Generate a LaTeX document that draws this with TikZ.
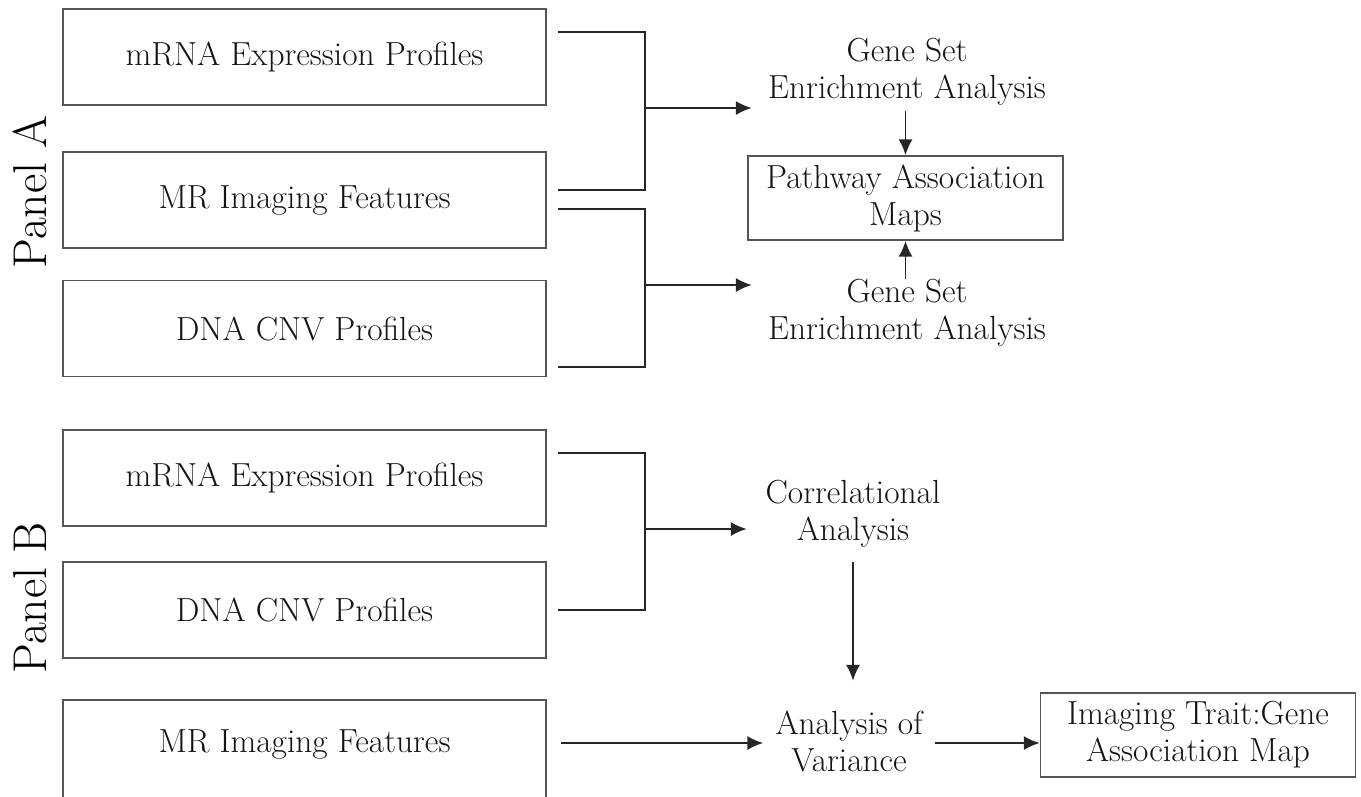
\documentclass[tikz,border=0pt]{standalone}
\usepackage{xcolor}
\usepackage{tikz}
\usetikzlibrary{arrows.meta}
\definecolor{linegray}{RGB}{85,85,85}
\definecolor{txtgray}{RGB}{20,20,20}

\begin{document}
\begin{tikzpicture}[x=0.02cm, y=-0.02cm,
  every node/.style={font=\fontsize{19}{21}\selectfont, text=txtgray},
  databox/.style={draw=linegray, line width=1pt, minimum width=9.66cm, minimum height=1.92cm},
  mapbox/.style={draw=linegray, line width=1pt, minimum width=6.3cm, minimum height=1.68cm, align=center, inner sep=0pt},
  stage/.style={align=center, inner sep=0pt},
  link/.style={draw=black!85, line width=1pt},
  arr/.style={link, -{Latex[length=9pt,width=8pt]}},
  panel/.style={rotate=90, text=black, font=\fontsize{27}{30}\selectfont}]

  % frame
  \useasboundingbox (0,0) rectangle (1361,796);
  \clip (0,0) rectangle (1361,796);

  % panel a: data
  \node[panel] (pA) at (30,192) {Panel A};
  \node[databox] (A1) at (304.5,57)  {mRNA Expression Profiles};
  \node[databox] (A2) at (304.5,200) {MR Imaging Features};
  \node[databox] (A3) at (304.5,328.5) {DNA CNV Profiles};

  % panel a: analysis
  \node[stage, minimum width=6.2cm, minimum height=1.56cm] (gsea1) at (907,72) {Gene Set\\Enrichment Analysis};
  \node[mapbox] (pam) at (905.5,198) {Pathway Association\\Maps};
  \node[stage, minimum width=6.2cm] (gsea2) at (907,313) {Gene Set\\Enrichment Analysis};

  % panel a: brackets
  \coordinate (a1r) at (558,32);
  \coordinate (a2r) at (558,190);
  \coordinate (a2s) at (558,209);
  \coordinate (a3r) at (558,367);
  \coordinate (ja) at (645,108);
  \coordinate (jb) at (645,285);
  \draw[link] (a1r) -| (ja);
  \draw[link] (a2r) -| (ja);
  \draw[link] (a2s) -| (jb);
  \draw[link] (a3r) -| (jb);
  \draw[arr] (ja) -- (gsea1.west |- ja);
  \draw[arr] (jb) -- (gsea2.west |- jb);
  \draw[arr] (gsea1.south -| pam.north) -- (pam.north);
  \draw[arr] (gsea2.north -| pam.south) -- (pam.south);

  % panel b: data
  \node[panel] (pB) at (30,598) {Panel B};
  \node[databox] (B1) at (304.5,478) {mRNA Expression Profiles};
  \node[databox] (B2) at (304.5,610) {DNA CNV Profiles};
  \node[databox, minimum height=2.0cm] (B3) at (304.5,750) {};
  \node (B3t) at (304.5,744) {MR Imaging Features};

  % panel b: analysis
  \node[stage, minimum width=4.24cm, minimum height=1.92cm] (corr) at (853,514) {Correlational\\Analysis};
  \node[stage, minimum width=3.42cm, minimum height=2.4cm] (anova) at (849,741) {Analysis of\\Variance};
  \node[mapbox] (itg) at (1198,735) {Imaging Trait:Gene\\Association Map};

  % panel b: links
  \coordinate (b1r) at (558,453);
  \coordinate (b2r) at (558,610);
  \coordinate (jc) at (645,529);
  \coordinate (b3r) at (561,743);
  \draw[link] (b1r) -| (jc);
  \draw[link] (b2r) -| (jc);
  \draw[arr] (jc) -- (corr.west |- jc);
  \draw[arr] (corr.south) -- (corr.south |- anova.north);
  \draw[arr] (b3r) -- (anova.west |- b3r);
  \draw[arr] (anova.east |- b3r) -- (itg.west |- b3r);

\end{tikzpicture}
\end{document}
